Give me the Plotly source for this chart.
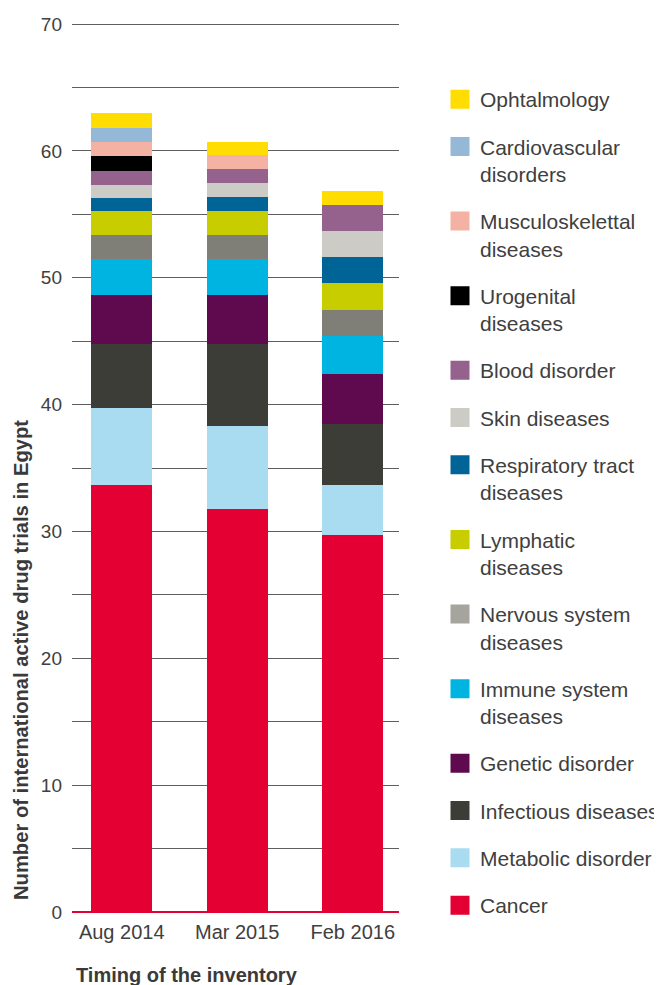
import plotly.graph_objects as go

categories = ["Aug 2014", "Mar 2015", "Feb 2016"]

# Series, bottom of stack to top
series_names = [
    "Cancer", "Metabolic disorder", "Infectious diseases", "Genetic disorder",
    "Immune system<br>diseases", "Nervous system<br>diseases", "Lymphatic<br>diseases",
    "Respiratory tract<br>diseases", "Skin diseases", "Blood disorder",
    "Urogenital<br>diseases", "Musculoskelettal<br>diseases", "Cardiovascular<br>disorders",
    "Ophtalmology",
]
cancer = [33.7, 31.8, 29.7]
metabolic = [6.0, 6.5, 4.0]
infectious = [5.1, 6.5, 4.8]
genetic = [3.8, 3.8, 3.9]
immune = [2.9, 2.9, 3.0]
nervous = [1.9, 1.9, 2.05]
lymphatic = [1.9, 1.9, 2.1]
respiratory = [1.0, 1.1, 2.05]
skin = [1.0, 1.1, 2.05]
blood = [1.1, 1.1, 2.1]
urogenital = [1.2, 0, 0]
musculoskeletal = [1.1, 1.1, 0]
cardiovascular = [1.1, 0, 0]
ophtalmology = [1.2, 1.0, 1.1]

series_values = [cancer, metabolic, infectious, genetic, immune, nervous, lymphatic,
                 respiratory, skin, blood, urogenital, musculoskeletal, cardiovascular,
                 ophtalmology]
bar_colors = ["#e40032", "#aadcf1", "#3d3d37", "#5f0a4e", "#00b4e1", "#7f7f78",
              "#c8cd00", "#006496", "#cccbc6", "#94628c", "#000000", "#f4b2a5",
              "#94b8d6", "#ffdd00"]
legend_colors = list(bar_colors)
legend_colors[5] = "#a6a59d"

y_ticks = [0, 10, 20, 30, 40, 50, 60, 70]

FONT = "Liberation Sans, Arial, sans-serif"
TXT = "#404040"

W, H = 654, 977
ML, MR, MT, MB = 64, 263, 14, 73
PW = W - ML - MR
PH = H - MT - MB

fig = go.Figure()
for name, vals, col in zip(series_names, series_values, bar_colors):
    fig.add_trace(go.Bar(x=categories, y=vals, name=name, marker=dict(color=col, line=dict(width=0)),
                         width=0.528, showlegend=False))

# Legend entries (top to bottom)
n = len(series_names)
for i in range(n - 1, -1, -1):
    fig.add_trace(go.Scatter(
        x=[None], y=[None], mode="markers", name=series_names[i],
        marker=dict(symbol="square", size=16, color=legend_colors[i],
                    line=dict(width=3, color=legend_colors[i])),
        legendgroup="g%d" % i, showlegend=True, hoverinfo="skip"))

fig.update_layout(
    width=W, height=H,
    margin=dict(l=ML, r=MR, t=MT, b=MB, autoexpand=False),
    barmode="stack",
    plot_bgcolor="white", paper_bgcolor="white",
    font=dict(family=FONT, color=TXT, size=19),
    legend=dict(
        x=(432 - ML) / PW, xanchor="left", y=(MT + PH - 71) / PH, yanchor="top",
        font=dict(family=FONT, size=21, color=TXT),
        tracegroupgap=17, valign="top", traceorder="grouped",
        itemwidth=30, bgcolor="rgba(0,0,0,0)",
    ),
    xaxis=dict(
        range=[-0.43, 2.40], showgrid=False, zeroline=False,
        showline=False, ticks="", tickfont=dict(size=20, color=TXT),
        ticklabelstandoff=6,
    ),
    yaxis=dict(
        range=[0, 70.16], tickvals=y_ticks, ticktext=[str(v) for v in y_ticks],
        showgrid=True, gridcolor="#5e5e5e", gridwidth=1.3,
        minor=dict(dtick=5, showgrid=True, gridcolor="#5e5e5e", gridwidth=1.3),
        zeroline=True, zerolinecolor="#e40032", zerolinewidth=1.5,
        ticks="", tickfont=dict(size=19, color=TXT), ticklabelstandoff=9,
    ),
    annotations=[
        dict(text="<b>Number of international active drug trials in Egypt</b>",
             textangle=-90, xref="paper", yref="paper", x=(13 - ML) / PW, y=0, yshift=10,
             xanchor="center", yanchor="bottom", showarrow=False,
             font=dict(family=FONT, size=20.2, color="#3a3a3a")),
        dict(text="<b>Timing of the inventory</b>", xref="paper", yref="paper",
             x=0, xshift=2, y=0, yshift=-63, xanchor="left", yanchor="middle",
             showarrow=False, font=dict(family=FONT, size=20, color="#3a3a3a")),
    ],
)

fig.write_html("out.html")
